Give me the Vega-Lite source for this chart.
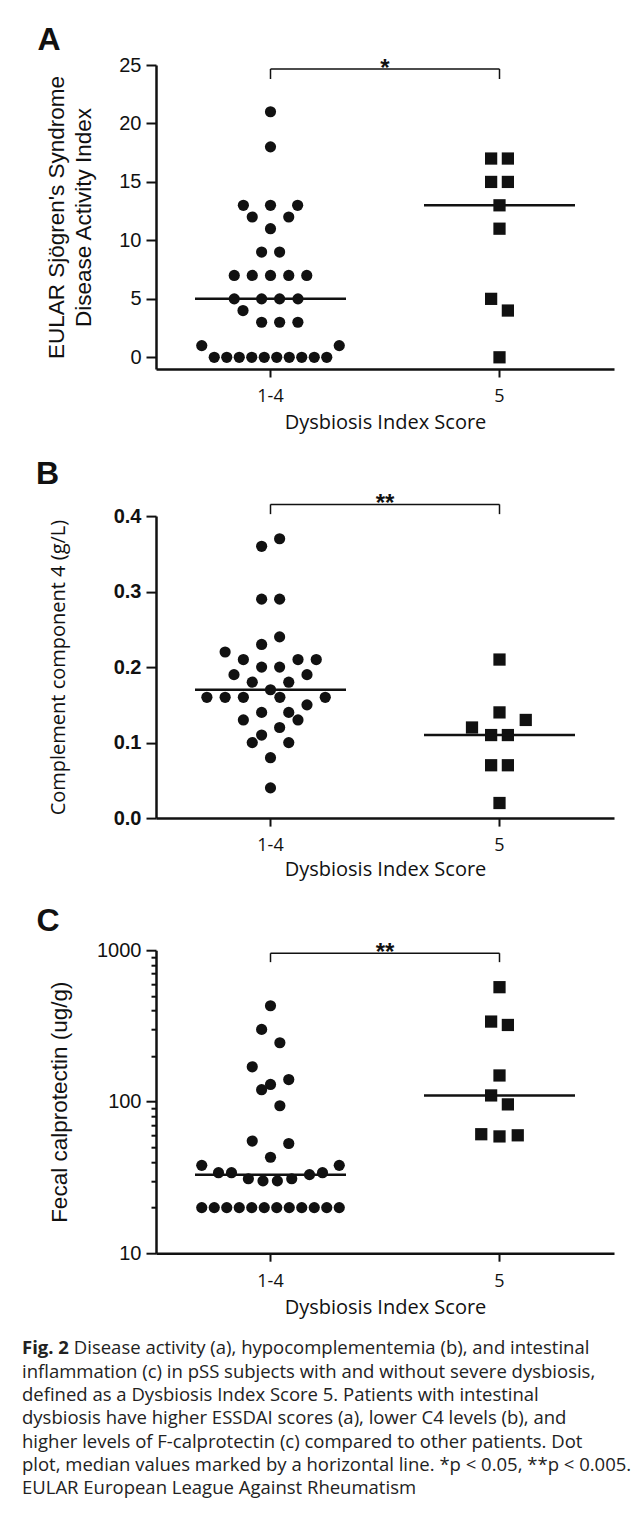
{
  "$schema": "https://vega.github.io/schema/vega-lite/v6.json",
  "padding": {"left": 22, "top": 24, "right": 0, "bottom": 0},
  "background": "white",
  "config": {
    "view": {"stroke": null},
    "axis": {"grid": false, "domainColor": "#111", "tickColor": "#111", "labelColor": "#111", "titleColor": "#111", "domainWidth": 2.5, "tickWidth": 2},
    "font": "Liberation Sans"
  },
  "datasets": {
    "a": [
      {"g": "1-4", "v": 0, "j": -4.5}, {"g": "1-4", "v": 0, "j": -3.5}, {"g": "1-4", "v": 0, "j": -2.5}, {"g": "1-4", "v": 0, "j": -1.5}, {"g": "1-4", "v": 0, "j": -0.5},
      {"g": "1-4", "v": 0, "j": 0.5}, {"g": "1-4", "v": 0, "j": 1.5}, {"g": "1-4", "v": 0, "j": 2.5}, {"g": "1-4", "v": 0, "j": 3.5}, {"g": "1-4", "v": 0, "j": 4.5},
      {"g": "1-4", "v": 1, "j": -5.5}, {"g": "1-4", "v": 1, "j": 5.5},
      {"g": "1-4", "v": 3, "j": -0.71}, {"g": "1-4", "v": 3, "j": 0.73}, {"g": "1-4", "v": 3, "j": 2.19},
      {"g": "1-4", "v": 4, "j": -2.2},
      {"g": "1-4", "v": 5, "j": -2.9}, {"g": "1-4", "v": 5, "j": -0.71}, {"g": "1-4", "v": 5, "j": 0.73}, {"g": "1-4", "v": 5, "j": 2.2},
      {"g": "1-4", "v": 7, "j": -2.9}, {"g": "1-4", "v": 7, "j": -1.46}, {"g": "1-4", "v": 7, "j": 0}, {"g": "1-4", "v": 7, "j": 1.46}, {"g": "1-4", "v": 7, "j": 2.9},
      {"g": "1-4", "v": 9, "j": -0.71}, {"g": "1-4", "v": 9, "j": 0.73},
      {"g": "1-4", "v": 11, "j": 0},
      {"g": "1-4", "v": 12, "j": -1.46}, {"g": "1-4", "v": 12, "j": 1.46},
      {"g": "1-4", "v": 13, "j": -2.17}, {"g": "1-4", "v": 13, "j": 0}, {"g": "1-4", "v": 13, "j": 2.17},
      {"g": "1-4", "v": 18, "j": 0}, {"g": "1-4", "v": 21, "j": 0},
      {"g": "5", "v": 17, "j": -0.67}, {"g": "5", "v": 17, "j": 0.67}, {"g": "5", "v": 15, "j": -0.67}, {"g": "5", "v": 15, "j": 0.67},
      {"g": "5", "v": 13, "j": 0}, {"g": "5", "v": 11, "j": 0}, {"g": "5", "v": 5, "j": -0.67}, {"g": "5", "v": 4, "j": 0.67}, {"g": "5", "v": 0, "j": 0}
    ],
    "b": [
      {"g": "1-4", "v": 0.36, "j": -0.71}, {"g": "1-4", "v": 0.37, "j": 0.73},
      {"g": "1-4", "v": 0.29, "j": -0.71}, {"g": "1-4", "v": 0.29, "j": 0.73},
      {"g": "1-4", "v": 0.23, "j": -0.71}, {"g": "1-4", "v": 0.24, "j": 0.73},
      {"g": "1-4", "v": 0.22, "j": -3.63},
      {"g": "1-4", "v": 0.21, "j": -2.17}, {"g": "1-4", "v": 0.21, "j": 2.2}, {"g": "1-4", "v": 0.21, "j": 3.66},
      {"g": "1-4", "v": 0.2, "j": -0.71}, {"g": "1-4", "v": 0.2, "j": 0.73},
      {"g": "1-4", "v": 0.19, "j": -2.92}, {"g": "1-4", "v": 0.19, "j": 2.92},
      {"g": "1-4", "v": 0.18, "j": -1.46}, {"g": "1-4", "v": 0.18, "j": 1.46},
      {"g": "1-4", "v": 0.17, "j": 0},
      {"g": "1-4", "v": 0.16, "j": -5.09}, {"g": "1-4", "v": 0.16, "j": -3.63}, {"g": "1-4", "v": 0.16, "j": -2.17}, {"g": "1-4", "v": 0.16, "j": 0.75}, {"g": "1-4", "v": 0.16, "j": 4.38},
      {"g": "1-4", "v": 0.15, "j": 2.92},
      {"g": "1-4", "v": 0.14, "j": -0.71}, {"g": "1-4", "v": 0.14, "j": 1.46},
      {"g": "1-4", "v": 0.13, "j": -2.17}, {"g": "1-4", "v": 0.13, "j": 2.2},
      {"g": "1-4", "v": 0.12, "j": 0.73},
      {"g": "1-4", "v": 0.11, "j": -0.71},
      {"g": "1-4", "v": 0.1, "j": -1.46}, {"g": "1-4", "v": 0.1, "j": 1.46},
      {"g": "1-4", "v": 0.08, "j": 0},
      {"g": "1-4", "v": 0.04, "j": 0},
      {"g": "5", "v": 0.21, "j": 0}, {"g": "5", "v": 0.14, "j": 0}, {"g": "5", "v": 0.12, "j": -2.2}, {"g": "5", "v": 0.13, "j": 2.1},
      {"g": "5", "v": 0.11, "j": -0.67}, {"g": "5", "v": 0.11, "j": 0.67}, {"g": "5", "v": 0.07, "j": -0.67}, {"g": "5", "v": 0.07, "j": 0.67}, {"g": "5", "v": 0.02, "j": 0}
    ],
    "c": [
      {"g": "1-4", "v": 430, "j": 0}, {"g": "1-4", "v": 300, "j": -0.71}, {"g": "1-4", "v": 245, "j": 0.75},
      {"g": "1-4", "v": 170, "j": -1.46}, {"g": "1-4", "v": 140, "j": 1.46}, {"g": "1-4", "v": 130, "j": 0}, {"g": "1-4", "v": 120, "j": -0.71},
      {"g": "1-4", "v": 94, "j": 0.75},
      {"g": "1-4", "v": 55, "j": -1.46}, {"g": "1-4", "v": 53, "j": 1.46}, {"g": "1-4", "v": 43, "j": 0},
      {"g": "1-4", "v": 38, "j": -5.5}, {"g": "1-4", "v": 38, "j": 5.5},
      {"g": "1-4", "v": 34, "j": -4.16}, {"g": "1-4", "v": 34, "j": -3.12}, {"g": "1-4", "v": 33, "j": 3.12}, {"g": "1-4", "v": 34, "j": 4.16},
      {"g": "1-4", "v": 31, "j": -1.77}, {"g": "1-4", "v": 30, "j": -0.6}, {"g": "1-4", "v": 30, "j": 0.55}, {"g": "1-4", "v": 31, "j": 1.7},
      {"g": "1-4", "v": 20, "j": -5.5}, {"g": "1-4", "v": 20, "j": -4.5}, {"g": "1-4", "v": 20, "j": -3.5}, {"g": "1-4", "v": 20, "j": -2.5},
      {"g": "1-4", "v": 20, "j": -1.5}, {"g": "1-4", "v": 20, "j": -0.5}, {"g": "1-4", "v": 20, "j": 0.5}, {"g": "1-4", "v": 20, "j": 1.5},
      {"g": "1-4", "v": 20, "j": 2.5}, {"g": "1-4", "v": 20, "j": 3.5}, {"g": "1-4", "v": 20, "j": 4.5}, {"g": "1-4", "v": 20, "j": 5.5},
      {"g": "5", "v": 570, "j": 0}, {"g": "5", "v": 338, "j": -0.67}, {"g": "5", "v": 321, "j": 0.67}, {"g": "5", "v": 149, "j": 0},
      {"g": "5", "v": 110, "j": -0.67}, {"g": "5", "v": 96, "j": 0.67}, {"g": "5", "v": 61, "j": -1.46}, {"g": "5", "v": 59, "j": 0}, {"g": "5", "v": 60, "j": 1.46}
    ],
    "sigA": [{"g": "1-4", "g2": "5", "hi": 24.66, "lo": 23.8, "s": "*"}, {"g": "5", "g2": "5", "hi": 24.66, "lo": 23.8, "s": ""}],
    "sigB": [{"g": "1-4", "g2": "5", "hi": 0.4155, "lo": 0.4026, "s": "**"}, {"g": "5", "g2": "5", "hi": 0.4155, "lo": 0.4026, "s": ""}],
    "sigC": [{"g": "1-4", "g2": "5", "hi": 955, "lo": 834, "s": "**"}, {"g": "5", "g2": "5", "hi": 955, "lo": 834, "s": ""}],
    "cap": [
      {"line": 1, "t": "Disease activity (a), hypocomplementemia (b), and intestinal"},
      {"line": 2, "t": "inflammation (c) in pSS subjects with and without severe dysbiosis,"},
      {"line": 3, "t": "defined as a Dysbiosis Index Score 5. Patients with intestinal"},
      {"line": 4, "t": "dysbiosis have higher ESSDAI scores (a), lower C4 levels (b), and"},
      {"line": 5, "t": "higher levels of F-calprotectin (c) compared to other patients. Dot"},
      {"line": 6, "t": "plot, median values marked by a horizontal line. *p < 0.05, **p < 0.005."},
      {"line": 7, "t": "EULAR European League Against Rheumatism"}
    ]
  },
  "concat": [
    {
      "spacing": 25.1,
      "vconcat": [
        {
          "width": 458, "height": 304,
          "title": {"text": "A", "anchor": "start", "frame": "bounds", "font": "Liberation Sans", "fontSize": 32, "fontWeight": "bold", "baseline": "alphabetic", "offset": -27, "dx": -8.2, "color": "#111"},
          "data": {"name": "a"},
          "encoding": {
            "x": {"field": "g", "type": "nominal", "scale": {"domain": ["1-4", "5"], "paddingInner": 0, "paddingOuter": 0},
              "axis": {"title": "Dysbiosis Index Score", "labelAngle": 0, "labelFont": "Open Sans", "labelFontSize": 18, "labelPadding": 10.8, "tickSize": 8, "titleFont": "Open Sans", "titleFontSize": 20, "titleFontWeight": "normal", "titlePadding": 6.4}},
            "y": {"field": "v", "type": "quantitative", "scale": {"domain": [-1, 25], "nice": false, "zero": false},
              "axis": {"values": [0, 5, 10, 15, 20, 25], "title": ["EULAR Sjögren's Syndrome", "Disease Activity Index"], "titleFont": "Liberation Sans", "titleFontSize": 22.5, "titleFontWeight": "normal", "titleLineHeight": 26.5, "titlePadding": 23.6, "labelFont": "Liberation Sans", "labelFontSize": 20, "labelPadding": 5, "tickSize": 10}}
          },
          "layer": [
            {"mark": {"type": "point", "filled": true, "opacity": 1, "color": "#111"},
              "encoding": {
                "xOffset": {"field": "j", "type": "quantitative", "scale": {"domain": [-9.16, 9.16]}},
                "shape": {"field": "g", "type": "nominal", "scale": {"domain": ["1-4", "5"], "range": ["circle", "square"]}, "legend": null},
                "size": {"field": "g", "type": "nominal", "scale": {"domain": ["1-4", "5"], "range": [125, 150]}, "legend": null}
              }},
            {"transform": [{"aggregate": [{"op": "median", "field": "v", "as": "v"}], "groupby": ["g"]}],
              "mark": {"type": "tick", "size": 151, "thickness": 2.5, "color": "#111", "opacity": 1}},
            {"data": {"name": "sigA"}, "transform": [{"filter": "datum.g == '1-4'"}], "mark": {"type": "rule", "strokeWidth": 1.5, "color": "#111"},
              "encoding": {"x2": {"field": "g2"}, "y": {"field": "hi", "type": "quantitative"}}},
            {"data": {"name": "sigA"}, "mark": {"type": "rule", "strokeWidth": 1.5, "color": "#111"},
              "encoding": {"y": {"field": "hi", "type": "quantitative"}, "y2": {"field": "lo"}}},
            {"data": {"name": "sigA"}, "transform": [{"filter": "datum.g == '1-4'"}], "mark": {"type": "text", "font": "Liberation Sans", "fontSize": 24, "fontWeight": "bold", "baseline": "alphabetic", "dy": 7, "dx": 114.5, "color": "#111"},
              "encoding": {"y": {"field": "hi", "type": "quantitative"}, "text": {"field": "s"}}}
          ]
        },
        {
          "width": 458, "height": 302,
          "title": {"text": "B", "anchor": "start", "frame": "bounds", "font": "Liberation Sans", "fontSize": 32, "fontWeight": "bold", "baseline": "alphabetic", "offset": -24, "dx": -12.7, "color": "#111"},
          "data": {"name": "b"},
          "encoding": {
            "x": {"field": "g", "type": "nominal", "scale": {"domain": ["1-4", "5"], "paddingInner": 0, "paddingOuter": 0},
              "axis": {"title": "Dysbiosis Index Score", "labelAngle": 0, "labelFont": "Open Sans", "labelFontSize": 18, "labelPadding": 10.8, "tickSize": 8, "titleFont": "Open Sans", "titleFontSize": 20, "titleFontWeight": "normal", "titlePadding": 4.4}},
            "y": {"field": "v", "type": "quantitative", "scale": {"domain": [0, 0.4], "nice": false},
              "axis": {"values": [0, 0.1, 0.2, 0.3, 0.4], "format": ".1f", "title": "Complement component 4 (g/L)", "titleFont": "Open Sans", "titleFontSize": 20, "titleFontWeight": "normal", "titlePadding": 44.5, "labelFont": "Liberation Sans", "labelFontSize": 20, "labelFontWeight": "bold", "labelPadding": 5, "tickSize": 10}}
          },
          "layer": [
            {"mark": {"type": "point", "filled": true, "opacity": 1, "color": "#111"},
              "encoding": {
                "xOffset": {"field": "j", "type": "quantitative", "scale": {"domain": [-9.16, 9.16]}},
                "shape": {"field": "g", "type": "nominal", "scale": {"domain": ["1-4", "5"], "range": ["circle", "square"]}, "legend": null},
                "size": {"field": "g", "type": "nominal", "scale": {"domain": ["1-4", "5"], "range": [125, 150]}, "legend": null}
              }},
            {"transform": [{"aggregate": [{"op": "median", "field": "v", "as": "v"}], "groupby": ["g"]}],
              "mark": {"type": "tick", "size": 151, "thickness": 2.5, "color": "#111", "opacity": 1}},
            {"data": {"name": "sigB"}, "transform": [{"filter": "datum.g == '1-4'"}], "mark": {"type": "rule", "strokeWidth": 1.5, "color": "#111"},
              "encoding": {"x2": {"field": "g2"}, "y": {"field": "hi", "type": "quantitative"}}},
            {"data": {"name": "sigB"}, "mark": {"type": "rule", "strokeWidth": 1.5, "color": "#111"},
              "encoding": {"y": {"field": "hi", "type": "quantitative"}, "y2": {"field": "lo"}}},
            {"data": {"name": "sigB"}, "transform": [{"filter": "datum.g == '1-4'"}], "mark": {"type": "text", "font": "Liberation Sans", "fontSize": 24, "fontWeight": "bold", "baseline": "alphabetic", "dy": 7, "dx": 114.5, "color": "#111"},
              "encoding": {"y": {"field": "hi", "type": "quantitative"}, "text": {"field": "s"}}}
          ]
        },
        {
          "width": 458, "height": 303,
          "title": {"text": "C", "anchor": "start", "frame": "bounds", "font": "Liberation Sans", "fontSize": 32, "fontWeight": "bold", "baseline": "alphabetic", "offset": -23, "dx": -12.2, "color": "#111"},
          "data": {"name": "c"},
          "encoding": {
            "x": {"field": "g", "type": "nominal", "scale": {"domain": ["1-4", "5"], "paddingInner": 0, "paddingOuter": 0},
              "axis": {"title": "Dysbiosis Index Score", "labelAngle": 0, "labelFont": "Open Sans", "labelFontSize": 18, "labelPadding": 10.8, "tickSize": 8, "titleFont": "Open Sans", "titleFontSize": 20, "titleFontWeight": "normal", "titlePadding": 7.4}},
            "y": {"field": "v", "type": "quantitative", "scale": {"type": "log", "domain": [10, 1000], "nice": false},
              "axis": {"values": [10, 20, 30, 40, 50, 60, 70, 80, 90, 100, 200, 300, 400, 500, 600, 700, 800, 900, 1000],
                "labelExpr": "datum.value == 10 || datum.value == 100 || datum.value == 1000 ? '' + datum.value : ''",
                "tickSize": {"condition": {"test": "datum.value == 10 || datum.value == 100 || datum.value == 1000", "value": 10}, "value": 5},
                "title": "Fecal calprotectin (ug/g)", "titleFont": "Liberation Sans", "titleFontSize": 22.5, "titleFontWeight": "normal", "titlePadding": 24.8, "labelFont": "Liberation Sans", "labelFontSize": 20, "labelPadding": 5}}
          },
          "layer": [
            {"mark": {"type": "point", "filled": true, "opacity": 1, "color": "#111"},
              "encoding": {
                "xOffset": {"field": "j", "type": "quantitative", "scale": {"domain": [-9.16, 9.16]}},
                "shape": {"field": "g", "type": "nominal", "scale": {"domain": ["1-4", "5"], "range": ["circle", "square"]}, "legend": null},
                "size": {"field": "g", "type": "nominal", "scale": {"domain": ["1-4", "5"], "range": [125, 150]}, "legend": null}
              }},
            {"transform": [{"aggregate": [{"op": "median", "field": "v", "as": "v"}], "groupby": ["g"]}],
              "mark": {"type": "tick", "size": 151, "thickness": 2.5, "color": "#111", "opacity": 1}},
            {"data": {"name": "sigC"}, "transform": [{"filter": "datum.g == '1-4'"}], "mark": {"type": "rule", "strokeWidth": 1.5, "color": "#111"},
              "encoding": {"x2": {"field": "g2"}, "y": {"field": "hi", "type": "quantitative"}}},
            {"data": {"name": "sigC"}, "mark": {"type": "rule", "strokeWidth": 1.5, "color": "#111"},
              "encoding": {"y": {"field": "hi", "type": "quantitative"}, "y2": {"field": "lo"}}},
            {"data": {"name": "sigC"}, "transform": [{"filter": "datum.g == '1-4'"}], "mark": {"type": "text", "font": "Liberation Sans", "fontSize": 24, "fontWeight": "bold", "baseline": "alphabetic", "dy": 7, "dx": 114.5, "color": "#111"},
              "encoding": {"y": {"field": "hi", "type": "quantitative"}, "text": {"field": "s"}}}
          ]
        }
      ]
    },
    {
      "width": 600, "height": 163.3,
      "data": {"name": "cap"},
      "encoding": {
        "y": {"field": "line", "type": "ordinal", "axis": null, "scale": {"paddingInner": 0, "paddingOuter": 0}},
        "x": {"datum": 0, "type": "quantitative", "axis": null, "scale": {"domain": [0, 1]}},
        "text": {"field": "t"}
      },
      "layer": [
        {"transform": [{"filter": "datum.line > 1"}], "mark": {"type": "text", "align": "left", "baseline": "alphabetic", "dy": 5, "dx": -134, "font": "Open Sans", "fontSize": 18.5, "color": "#222"}},
        {"transform": [{"filter": "datum.line == 1"}], "mark": {"type": "text", "align": "left", "baseline": "alphabetic", "dy": 5, "dx": -82.2, "font": "Open Sans", "fontSize": 18.5, "color": "#222"}},
        {"data": {"values": [{"line": 1, "t": "Fig. 2"}]}, "mark": {"type": "text", "align": "left", "baseline": "alphabetic", "dy": 5, "dx": -134, "font": "Open Sans", "fontSize": 18.5, "fontWeight": "bold", "color": "#222"}}
      ]
    }
  ],
  "columns": 1,
  "align": "none",
  "spacing": 19.65
}
